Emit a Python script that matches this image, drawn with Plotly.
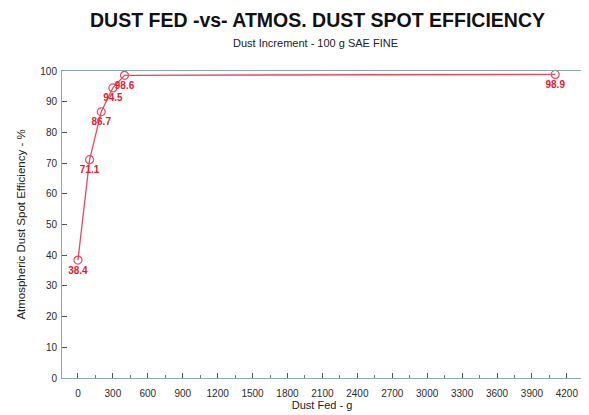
import plotly.graph_objects as go

dust_fed = [0, 100, 200, 300, 400, 4100]
efficiency = [38.4, 71.1, 86.7, 94.5, 98.6, 98.9]
point_labels = ["38.4", "71.1", "86.7", "94.5", "98.6", "98.9"]
x_ticks = list(range(0, 4201, 300))
y_ticks = list(range(0, 101, 10))

FONT = "Liberation Sans, Arial"

fig = go.Figure()
fig.add_trace(go.Scatter(
    x=dust_fed, y=efficiency, mode="lines+markers+text",
    text=["<b>" + t + "</b>" for t in point_labels], textposition="bottom center",
    textfont=dict(family=FONT, size=10, color="#e0202e"),
    line=dict(color="#e84a62", width=1.3),
    marker=dict(symbol="circle-open", size=8, color="#e84a62", line=dict(width=1.2)),
    cliponaxis=False, showlegend=False,
))

axis_common = dict(
    showgrid=False, zeroline=False, showline=True, mirror=True,
    linecolor="#8aa9ad", linewidth=1, ticks="inside", ticklen=5,
    tickcolor="#555555",
    tickfont=dict(family=FONT, size=10, color="#2a2a2a"),
)

fig.update_xaxes(range=[-137, 4330], tickvals=x_ticks, ticklabelstandoff=6,
                 title=dict(text="Dust Fed - g", standoff=2,
                            font=dict(family=FONT, size=11, color="#222222")),
                 minor=dict(ticks="inside", ticklen=3, dtick=150, tickcolor="#777777"),
                 automargin=False, **axis_common)
fig.update_yaxes(range=[0, 100], tickvals=y_ticks, ticklabelstandoff=2,
                 title=dict(text="Atmospheric Dust Spot Efficiency - %", standoff=12,
                            font=dict(family=FONT, size=11.5, color="#222222")),
                 automargin=False, **axis_common)

fig.update_layout(
    width=589, height=415,
    margin=dict(l=54, r=15, t=63, b=45),
    paper_bgcolor="white", plot_bgcolor="white",
    font=dict(family=FONT),
    annotations=[
        dict(text="<b>DUST FED -vs- ATMOS. DUST SPOT EFFICIENCY</b>", xref="paper", yref="paper",
             x=0.492, y=1, yshift=51, yanchor="middle", showarrow=False,
             font=dict(size=19.5, color="#111111")),
        dict(text="Dust Increment - 100 g SAE FINE", xref="paper", yref="paper",
             x=0.488, y=1, yshift=28, yanchor="middle", showarrow=False,
             font=dict(size=11, color="#222222")),
    ],
)

fig.write_html("out.html")
